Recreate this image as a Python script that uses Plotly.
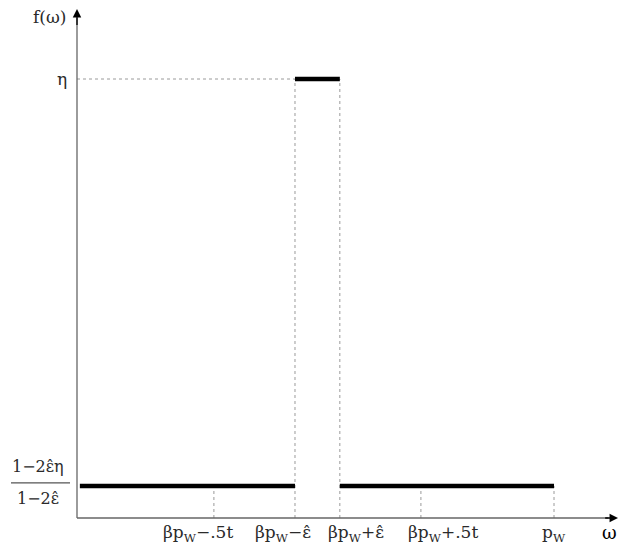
import plotly.graph_objects as go

# ---- data (conceptual values) ----
beta = 0.504
p_W = 1.0
eps_hat = 0.047
half_t = 0.217
eta = 1.0
low = 0.073          # (1-2ε̂η)/(1-2ε̂)

x_ticks = [beta * p_W - half_t, beta * p_W - eps_hat, beta * p_W + eps_hat,
           beta * p_W + half_t, p_W]
tick_labels = ["βp<sub>W</sub>−.5t", "βp<sub>W</sub>−ε̂", "βp<sub>W</sub>+ε̂",
               "βp<sub>W</sub>+.5t", "p<sub>W</sub>"]
tick_tops = [low, eta, eta, low, low]
label_shift = [-16, -12, 16, 22, 0]   # pixel nudges of the labels

FONT = "DejaVu Serif"
TXT = "#2a2a2a"
GRID = "#9a9a9a"

# scale: pixels per unit
SX, SY = 477.0, 439.0
W, H = 612, 542           # page body has an 8px margin
X0_PX, Y0_PX = 69, 510    # axis origin inside the figure

fig = go.Figure()

# dashed guides
for xv, top in zip(x_ticks, tick_tops):
    fig.add_trace(go.Scatter(x=[xv, xv], y=[0, top], mode="lines",
                             line=dict(color=GRID, width=1, dash="dot"),
                             hoverinfo="skip", showlegend=False))
fig.add_trace(go.Scatter(x=[0, x_ticks[1]], y=[eta, eta], mode="lines",
                         line=dict(color=GRID, width=1, dash="dot"),
                         hoverinfo="skip", showlegend=False))

# density pieces
segments = [([0.006, x_ticks[1]], [low, low]),
            ([x_ticks[1], x_ticks[2]], [eta, eta]),
            ([x_ticks[2], p_W], [low, low])]
for xs, ys in segments:
    fig.add_trace(go.Scatter(x=xs, y=ys, mode="lines",
                             line=dict(color="black", width=4.5),
                             hoverinfo="skip", showlegend=False))

x_end = (W - 2 - X0_PX) / SX
y_end = (Y0_PX - 1) / SY

# axes lines
fig.add_shape(type="line", x0=0, y0=0, x1=x_end - 0.02, y1=0,
              line=dict(color="#666666", width=1.3))
fig.add_shape(type="line", x0=0, y0=0, x1=0, y1=y_end - 0.02,
              line=dict(color="#666666", width=1.3))
# arrowheads
fig.add_annotation(x=x_end, y=0, ax=x_end - 0.03, ay=0, xref="x", yref="y",
                   axref="x", ayref="y", showarrow=True, arrowhead=2,
                   arrowsize=1.3, arrowwidth=1.3, arrowcolor="black", text="")
fig.add_annotation(x=0, y=y_end, ax=0, ay=y_end - 0.04, xref="x", yref="y",
                   axref="x", ayref="y", showarrow=True, arrowhead=2,
                   arrowsize=1.3, arrowwidth=1.3, arrowcolor="black", text="")

# x tick labels
for xv, lab, sh in zip(x_ticks, tick_labels, label_shift):
    fig.add_annotation(x=xv, y=0, xref="x", yref="y", text=lab, showarrow=False,
                       xshift=sh, yshift=-15, yanchor="middle",
                       font=dict(family=FONT, size=17, color=TXT))

# axis titles
fig.add_annotation(x=0, y=1.15, xref="x", yref="y", text="f(ω)",
                   showarrow=False, xshift=-28, yshift=-4,
                   font=dict(family=FONT, size=17, color=TXT))
fig.add_annotation(x=(W - X0_PX) / SX, y=0, xref="x", yref="y", text="ω",
                   showarrow=False, xanchor="right", xshift=-1, yshift=-14,
                   font=dict(family=FONT, size=18, color="black"))

# y labels
fig.add_annotation(x=0, y=eta, xref="x", yref="y", text="η", showarrow=False,
                   xshift=-15, font=dict(family=FONT, size=17, color=TXT))
fig.add_annotation(x=0, y=low, xref="x", yref="y", text="1−2ε̂η",
                   showarrow=False, xshift=-39, yshift=19,
                   font=dict(family=FONT, size=16, color=TXT))
fig.add_annotation(x=0, y=low, xref="x", yref="y", text="1−2ε̂",
                   showarrow=False, xshift=-39, yshift=-13,
                   font=dict(family=FONT, size=16, color=TXT))
fig.add_shape(type="line", x0=-66 / SX, x1=-7 / SX, y0=low + 3 / SY, y1=low + 3 / SY,
              line=dict(color="#555555", width=1.3))

fig.update_layout(
    width=W, height=H,
    margin=dict(l=0, r=0, t=0, b=0),
    plot_bgcolor="white", paper_bgcolor="white",
    xaxis=dict(range=[-X0_PX / SX, (W - X0_PX) / SX], visible=False, fixedrange=True),
    yaxis=dict(range=[-(H - Y0_PX) / SY, Y0_PX / SY], visible=False, fixedrange=True),
    showlegend=False,
)

fig.write_html("out.html")
